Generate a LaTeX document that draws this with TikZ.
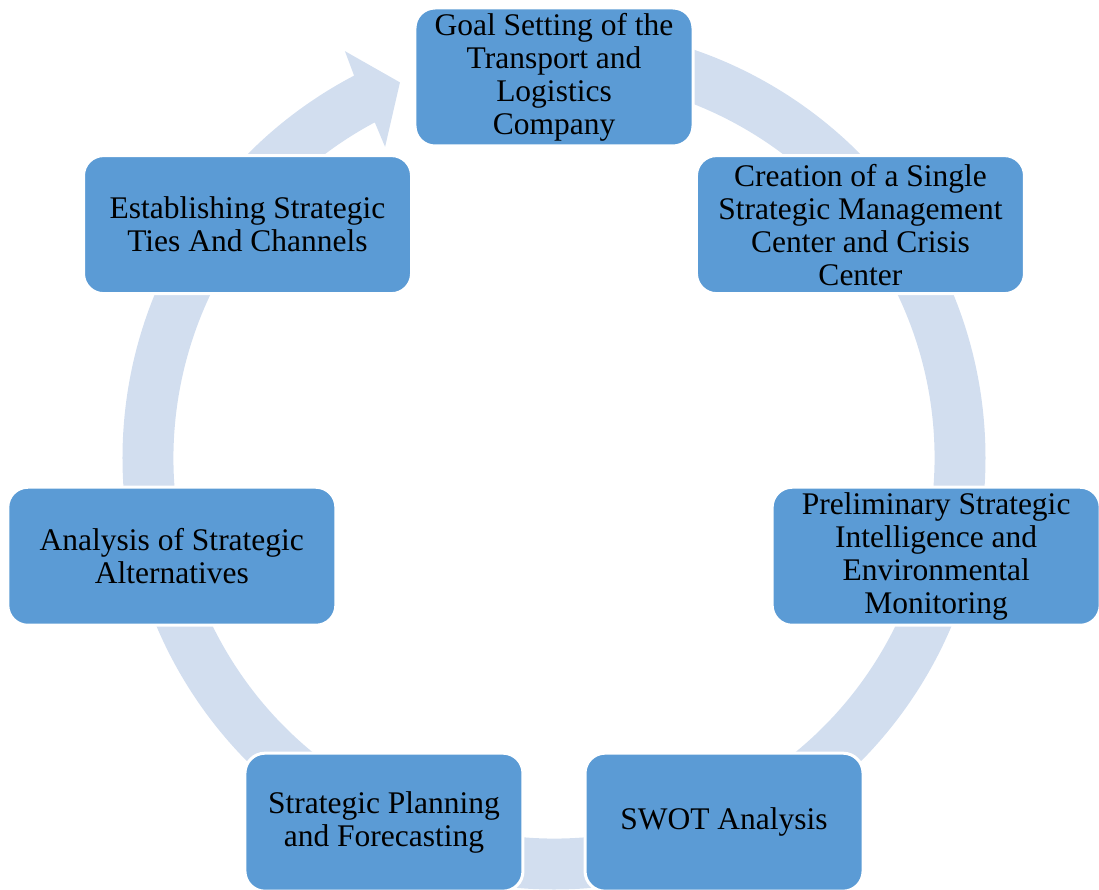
\documentclass[tikz,border=0pt]{standalone}
\usepackage{fontspec}
\setmainfont{Liberation Serif}

\definecolor{stageblue}{RGB}{91,155,213}
\definecolor{ringblue}{RGB}{210,222,239}

\begin{document}
\begin{tikzpicture}[x=1pt,y=1pt,
                    stage/.style={draw=white,line width=3pt,fill=stageblue,
                                  rounded corners=20pt,inner sep=0pt,
                                  minimum width=278pt,minimum height=138pt,
                                  align=center,font=\fontsize{31.5}{33}\selectfont},
                    wide stage/.style={stage,minimum width=328pt}]
  \useasboundingbox (-554,-420) rectangle (545,469);
  % circular arrow behind the stages
  \coordinate (hub) at (0,11);
  \fill[ringblue,shift={(hub)}] (90:431.5)
    arc[start angle=90,end angle=-242.4,radius=431.5]
    -- (117.2:457.5) -- (112.3:406) -- (118.5:354) -- (118.1:380.5)
    arc[start angle=-241.9,end angle=90,radius=380.5] -- cycle;
  % the seven stages, clockwise from the top
  \node[stage] (goal) at (90:392) {Goal Setting of the\\Transport and\\Logistics\\Company};
  \node[wide stage] (crisis) at (38.57:392) {Creation of a Single\\Strategic Management\\Center and Crisis\\Center};
  \node[wide stage] (intel) at (-12.86:392) {Preliminary Strategic\\Intelligence and\\Environmental\\Monitoring};
  \node[stage] (swot) at (-64.29:392) {SWOT Analysis};
  \node[stage] (plan) at (-115.71:392) {Strategic Planning\\and Forecasting};
  \node[wide stage] (alt) at (-167.14:392) {Analysis of Strategic\\Alternatives};
  \node[wide stage] (ties) at (141.43:392) {Establishing Strategic\\Ties And Channels};
\end{tikzpicture}
\end{document}
